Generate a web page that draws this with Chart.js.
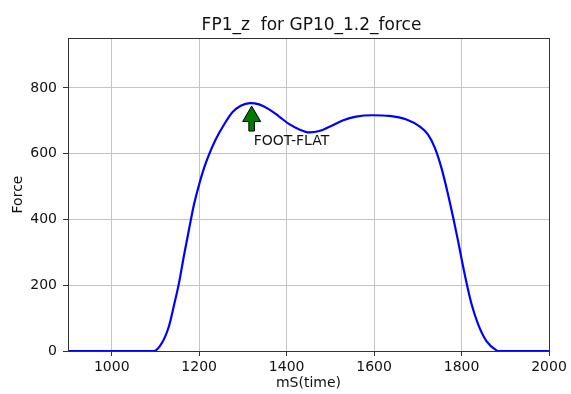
<!DOCTYPE html>
<html>
<head>
<meta charset="utf-8">
<script src="https://cdn.jsdelivr.net/npm/chart.js@4.4.1/dist/chart.umd.min.js"></script>
<style>
  html, body { margin: 0; padding: 0; background: #fff; }
  #wrap { width: 571px; height: 394px; }
</style>
</head>
<body>
<div id="wrap"><canvas id="c" width="571" height="394"></canvas></div>
<script>
// Vertical force on force plate 1 over one stance phase
const timeMs = [900, 950, 1000, 1050, 1096, 1115, 1131, 1142, 1154, 1165, 1177, 1188, 1200,
  1211, 1222, 1238, 1257, 1276, 1295, 1316, 1337, 1360, 1383, 1406, 1429, 1452, 1475, 1498,
  1528, 1559, 1597, 1635, 1674, 1704, 1723, 1739, 1754, 1769, 1781, 1792, 1801, 1811, 1823,
  1838, 1857, 1880, 1886, 1950, 2000];
const forceN = [0, 0, 0, 0, 0, 25, 76, 137, 208, 289, 372, 445, 507,
  556, 596, 644, 689, 726, 746, 754, 750, 735, 713, 690, 674, 665, 669, 682,
  701, 713, 717, 715, 704, 683, 659, 618, 557, 477, 405, 335, 274, 210, 142,
  81, 30, 2, 0, 0, 0];

const xTicks = [1000, 1200, 1400, 1600, 1800, 2000];
const yTicks = [0, 200, 400, 600, 800];

const chartTitle = 'FP1_z  for GP10_1.2_force';

// Gait event marker: arrow from (eventTime, eventBase) up to (eventTime, eventTip)
const eventLabel = 'FOOT-FLAT';
const eventTime = 1320;
const eventTip = 745;
const eventBase = 669;
const eventTextY = 637;

const FONT = '"DejaVu Sans", sans-serif';
const points = timeMs.map((t, i) => ({ x: t, y: forceN[i] }));

const frame = {
  id: 'frame',
  afterDatasetsDraw(chart) {
    const { ctx, chartArea: a, scales } = chart;
    // marker arrow
    const x = scales.x.getPixelForValue(eventTime);
    const yTip = scales.y.getPixelForValue(eventTip);
    const yBase = scales.y.getPixelForValue(eventBase);
    const headH = (yBase - yTip) * 0.62;
    const hw = 9, sw = 2.8;
    ctx.save();
    ctx.beginPath();
    ctx.moveTo(x, yTip);
    ctx.lineTo(x + hw, yTip + headH);
    ctx.lineTo(x + sw, yTip + headH);
    ctx.lineTo(x + sw, yBase);
    ctx.lineTo(x - sw, yBase);
    ctx.lineTo(x - sw, yTip + headH);
    ctx.lineTo(x - hw, yTip + headH);
    ctx.closePath();
    ctx.fillStyle = '#007a00';
    ctx.fill();
    ctx.lineWidth = 1;
    ctx.strokeStyle = '#000';
    ctx.stroke();
    // marker label
    ctx.font = '14px ' + FONT;
    ctx.fillStyle = '#111';
    ctx.textAlign = 'left';
    ctx.textBaseline = 'middle';
    ctx.fillText(eventLabel, x + 2, scales.y.getPixelForValue(eventTextY));
    // axes box
    ctx.strokeStyle = '#333';
    ctx.lineWidth = 1;
    ctx.strokeRect(Math.round(a.left) + 0.5, Math.round(a.top) + 0.5,
      Math.round(a.right - a.left), Math.round(a.bottom - a.top));
    // title, centred over the plot area
    ctx.font = '17px ' + FONT;
    ctx.fillStyle = '#111';
    ctx.textAlign = 'center';
    ctx.textBaseline = 'alphabetic';
    ctx.fillText(chartTitle, (a.left + a.right) / 2 + 3, a.top - 8);
    ctx.restore();
  }
};

new Chart(document.getElementById('c'), {
  type: 'scatter',
  data: {
    datasets: [{
      data: points,
      showLine: true,
      borderColor: '#0000ff',
      borderWidth: 2.2,
      pointRadius: 0,
      cubicInterpolationMode: 'monotone',
      fill: false
    }]
  },
  options: {
    responsive: false,
    animation: false,
    layout: { padding: { left: 0, right: 22, top: 38, bottom: 0 } },
    plugins: {
      legend: { display: false },
      tooltip: { enabled: false },
      title: { display: false }
    },
    scales: {
      x: {
        type: 'linear',
        min: 900,
        max: 2000,
        afterBuildTicks(s) { s.ticks = xTicks.map(v => ({ value: v })); },
        afterFit(s) { s.height = 43; },
        ticks: {
          color: '#111',
          font: { family: FONT, size: 14 },
          padding: 3,
          maxRotation: 0,
          callback: v => String(v)
        },
        grid: { color: '#c4c4c4', lineWidth: 1, tickColor: '#333', tickLength: 5 },
        border: { color: '#333' },
        title: {
          display: true,
          text: 'mS(time)',
          color: '#111',
          font: { family: FONT, size: 14 },
          padding: { top: 0, bottom: 2 }
        }
      },
      y: {
        type: 'linear',
        min: 0,
        max: 952,
        afterBuildTicks(s) { s.ticks = yTicks.map(v => ({ value: v })); },
        afterFit(s) { s.width = 68; },
        ticks: {
          color: '#111',
          font: { family: FONT, size: 14 },
          padding: 6,
          callback: v => String(v)
        },
        grid: { color: '#c4c4c4', lineWidth: 1, tickColor: '#333', tickLength: 5 },
        border: { color: '#333' },
        title: {
          display: true,
          text: 'Force',
          color: '#111',
          font: { family: FONT, size: 14 },
          padding: { top: 10, bottom: 0 }
        }
      }
    }
  },
  plugins: [frame]
});
</script>
</body>
</html>
